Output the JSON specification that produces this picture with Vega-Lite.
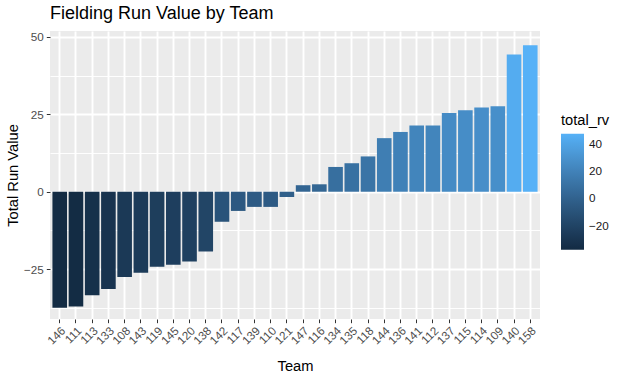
{
  "$schema": "https://vega.github.io/schema/vega-lite/v6.json",
  "autosize": {"type": "none"},
  "padding": {"left": 50, "top": 31, "right": 84, "bottom": 59},
  "width": 490,
  "height": 288,
  "title": {"text": "Fielding Run Value by Team", "anchor": "start", "frame": "group", "fontSize": 18, "fontWeight": "normal", "font": "Liberation Sans", "color": "#000000", "offset": 8},
  "data": {"values": [
    {"team": "146", "total_rv": -37.5},
    {"team": "111", "total_rv": -37.1},
    {"team": "113", "total_rv": -33.4},
    {"team": "133", "total_rv": -31.4},
    {"team": "108", "total_rv": -27.5},
    {"team": "143", "total_rv": -26.2},
    {"team": "119", "total_rv": -24.2},
    {"team": "145", "total_rv": -23.6},
    {"team": "120", "total_rv": -22.5},
    {"team": "138", "total_rv": -19.3},
    {"team": "142", "total_rv": -9.7},
    {"team": "117", "total_rv": -6.2},
    {"team": "139", "total_rv": -4.9},
    {"team": "110", "total_rv": -4.9},
    {"team": "121", "total_rv": -1.7},
    {"team": "147", "total_rv": 2.1},
    {"team": "116", "total_rv": 2.4},
    {"team": "134", "total_rv": 8.0},
    {"team": "135", "total_rv": 9.2},
    {"team": "118", "total_rv": 11.4},
    {"team": "144", "total_rv": 17.3},
    {"team": "136", "total_rv": 19.3},
    {"team": "141", "total_rv": 21.4},
    {"team": "112", "total_rv": 21.4},
    {"team": "137", "total_rv": 25.4},
    {"team": "115", "total_rv": 26.3},
    {"team": "114", "total_rv": 27.2},
    {"team": "109", "total_rv": 27.6},
    {"team": "140", "total_rv": 44.3},
    {"team": "158", "total_rv": 47.3}
  ]},
  "mark": {"type": "bar"},
  "encoding": {
    "x": {
      "field": "team", "type": "nominal", "title": "Team",
      "sort": ["146","111","113","133","108","143","119","145","120","138","142","117","139","110","121","147","116","134","135","118","144","136","141","112","137","115","114","109","140","158"],
      "scale": {"paddingInner": 0.1, "paddingOuter": 0.15},
      "axis": {"grid": true, "gridWidth": 1.9, "bandPosition": 0.5, "labelAngle": -45, "labelAlign": "right", "labelBaseline": "top", "labelPadding": 2, "titlePadding": 12}
    },
    "y": {
      "field": "total_rv", "type": "quantitative", "title": "Total Run Value",
      "scale": {"domain": [-41.1, 51.9], "nice": false, "zero": false},
      "axis": {
        "values": [-37.5, -25, -12.5, 0, 12.5, 25, 37.5, 50],
        "grid": true,
        "gridWidth": {"condition": {"test": "datum.value % 25 === 0", "value": 1.9}, "value": 0.95},
        "tickOpacity": {"condition": {"test": "datum.value % 25 === 0", "value": 1}, "value": 0},
        "labelExpr": "datum.value % 25 === 0 ? datum.label : ''",
        "labelPadding": 3,
        "titlePadding": 3
      }
    },
    "color": {
      "field": "total_rv", "type": "quantitative",
      "scale": {"range": ["#132B43", "#56B1F7"], "zero": false},
      "legend": {
        "title": "total_rv", "orient": "none", "legendX": 511, "legendY": 82,
        "values": [-20, 0, 20, 40],
        "gradientLength": 116, "gradientThickness": 23, "gradientStrokeWidth": 0,
        "titleFontSize": 14.7, "titleFontWeight": "normal", "titleColor": "#000000", "titleFont": "Liberation Sans", "titlePadding": 6,
        "labelFontSize": 11.7, "labelColor": "#1A1A1A", "labelFont": "Liberation Sans", "labelOffset": 5
      }
    }
  },
  "config": {
    "background": "#FFFFFF",
    "view": {"fill": "#EBEBEB", "stroke": null},
    "axis": {
      "domain": false, "tickColor": "#333333", "tickSize": 3.7, "tickWidth": 1,
      "labelColor": "#4D4D4D", "labelFontSize": 11.7, "labelFont": "Liberation Sans",
      "titleFont": "Liberation Sans", "titleFontSize": 14.7, "titleFontWeight": "normal", "titleColor": "#000000",
      "gridColor": "#FFFFFF", "gridOpacity": 1
    }
  }
}
